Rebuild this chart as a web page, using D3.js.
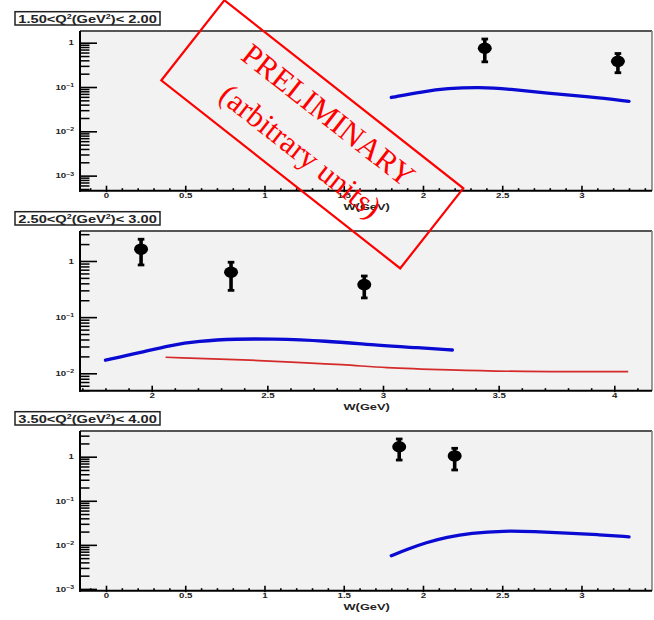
<!DOCTYPE html>
<html><head><meta charset="utf-8">
<script src="https://cdn.jsdelivr.net/npm/d3@7"></script>
<style>body{margin:0;background:#fff} svg{display:block}</style>
</head><body>
<svg id="c" width="654" height="620"></svg>
<script>
// Q² bins shown in the three pads: [low edge, high edge]
const binLow = ["1.50", "2.50", "3.50"];
const binHigh = ["2.00", "3.00", "4.00"];

// measured points: W, value, upper and lower error-bar ends
const bin1W = [2.39, 3.23];
const bin1Val = [0.75, 0.38];
const bin1Hi = [1.21, 0.57];
const bin1Lo = [0.37, 0.21];

const bin2W = [1.954, 2.343, 2.919];
const bin2Val = [1.62, 0.63, 0.38];
const bin2Hi = [2.44, 0.95, 0.54];
const bin2Lo = [0.85, 0.30, 0.22];

const bin3W = [1.85, 2.20];
const bin3Val = [1.68, 1.04];
const bin3Hi = [2.52, 1.55];
const bin3Lo = [0.84, 0.50];

// model curves (blue: thick, red: thin)
const bin1BlueW = [1.80, 2.00, 2.15, 2.36, 2.55, 2.78, 3.05, 3.30];
const bin1BlueY = [0.058, 0.0785, 0.093, 0.100, 0.090, 0.072, 0.0605, 0.0476];

const bin2BlueW = [1.80, 1.95, 2.08, 2.20, 2.37, 2.51, 2.75, 2.99, 3.15, 3.30];
const bin2BlueY = [0.0171, 0.0233, 0.0316, 0.0376, 0.041, 0.041, 0.038, 0.031, 0.0286, 0.026];
const bin2RedW = [2.06, 2.50, 2.86, 2.99, 3.29, 3.58, 4.06];
const bin2RedY = [0.0193, 0.0168, 0.0141, 0.0126, 0.01145, 0.01067, 0.01067];

const bin3BlueW = [1.80, 1.90, 2.02, 2.15, 2.30, 2.51, 2.70, 2.91, 3.10, 3.30];
const bin3BlueY = [0.00566, 0.0079, 0.0113, 0.0149, 0.0185, 0.0209, 0.0200, 0.0185, 0.0171, 0.0152];

// axis ranges and ticks
const wRangeLow = [-0.164, 3.445];
const wRangeHigh = [1.690, 4.163];
const wTicksLow = [0, 0.5, 1, 1.5, 2, 2.5, 3];
const wTicksLowLabels = ["0", "0.5", "1", "1.5", "2", "2.5", "3"];
const wTicksHigh = [2, 2.5, 3, 3.5, 4];
const wTicksHighLabels = ["2", "2.5", "3", "3.5", "4"];
const yRanges = [[Math.pow(10, -3.34), Math.pow(10, 0.264)],
                 [Math.pow(10, -2.31), Math.pow(10, 0.534)],
                 [Math.pow(10, -3.04), Math.pow(10, 0.583)]];
const yTicks = [[1, 0.1, 0.01, 0.001], [1, 0.1, 0.01], [1, 0.1, 0.01, 0.001]];
const yTickExp = { 1: "", 0.1: "\u22121", 0.01: "\u22122", 0.001: "\u22123" };
const xTitle = "W(GeV)";

const pads = [
  { lo: binLow[0], hi: binHigh[0], wr: wRangeLow, wt: wTicksLow, wl: wTicksLowLabels, yr: yRanges[0], yt: yTicks[0],
    pts: [bin1W, bin1Val, bin1Hi, bin1Lo], blue: [bin1BlueW, bin1BlueY], red: null },
  { lo: binLow[1], hi: binHigh[1], wr: wRangeHigh, wt: wTicksHigh, wl: wTicksHighLabels, yr: yRanges[1], yt: yTicks[1],
    pts: [bin2W, bin2Val, bin2Hi, bin2Lo], blue: [bin2BlueW, bin2BlueY], red: [bin2RedW, bin2RedY] },
  { lo: binLow[2], hi: binHigh[2], wr: wRangeLow, wt: wTicksLow, wl: wTicksLowLabels, yr: yRanges[2], yt: yTicks[2],
    pts: [bin3W, bin3Val, bin3Hi, bin3Lo], blue: [bin3BlueW, bin3BlueY], red: null }
];

const svg = d3.select("#c");
const frameX0 = 80, frameX1 = 652, padH = 159.7;
const padTops = [31, 231, 431];
const SANS = "'Liberation Sans', Arial, Helvetica, sans-serif";

pads.forEach((p, i) => {
  const top = padTops[i], bot = top + padH;
  const g = svg.append("g");
  const x = d3.scaleLinear().domain(p.wr).range([frameX0, frameX1]);
  const y = d3.scaleLog().domain(p.yr).range([bot, top]);

  // pad background and frame
  g.append("rect").attr("x", frameX0).attr("y", top).attr("width", frameX1 - frameX0).attr("height", padH)
    .attr("fill", "#f2f2f2");
  g.append("line").attr("x1", frameX0).attr("x2", frameX1).attr("y1", top).attr("y2", top)
    .attr("stroke", "#555").attr("stroke-width", 2);
  g.append("line").attr("x1", frameX1).attr("x2", frameX1).attr("y1", top).attr("y2", bot)
    .attr("stroke", "#7a7a7a").attr("stroke-width", 1.5);

  // model curves
  const line = d3.line().x(d => x(d[0])).y(d => y(d[1])).curve(d3.curveBasis);
  if (p.red) {
    g.append("path").attr("d", line(d3.zip(p.red[0], p.red[1])))
      .attr("fill", "none").attr("stroke", "#d42a2a").attr("stroke-width", 1.7);
  }
  g.append("path").attr("d", line(d3.zip(p.blue[0], p.blue[1])))
    .attr("fill", "none").attr("stroke", "#0a0ad2").attr("stroke-width", 3.3).attr("stroke-linecap", "round");

  // data points with error bars
  const [pw, pv, ph, pl] = p.pts;
  pw.forEach((w, k) => {
    const cx = x(w);
    g.append("line").attr("x1", cx).attr("x2", cx).attr("y1", y(ph[k])).attr("y2", y(pl[k]))
      .attr("stroke", "#000").attr("stroke-width", 3.6);
    [ph[k], pl[k]].forEach(e => {
      g.append("line").attr("x1", cx - 3.3).attr("x2", cx + 3.3).attr("y1", y(e)).attr("y2", y(e))
        .attr("stroke", "#000").attr("stroke-width", 2.8);
    });
    g.append("ellipse").attr("cx", cx).attr("cy", y(pv[k])).attr("rx", 7).attr("ry", 5.8).attr("fill", "#000");
  });

  // x axis: majors with labels, minors every 0.1
  const minorX = d3.range(Math.ceil(p.wr[0] * 10), Math.floor(p.wr[1] * 10) + 1)
    .map(v => v / 10).filter(v => !p.wt.some(t => Math.abs(t - v) < 1e-6));
  g.append("g").attr("transform", `translate(0,${bot})`)
    .call(d3.axisBottom(x).tickValues(minorX).tickSize(-2.5).tickFormat(""))
    .call(a => a.select(".domain").remove())
    .selectAll("line").attr("stroke", "#000").attr("stroke-width", 1.6);
  const xa = g.append("g").attr("transform", `translate(0,${bot})`)
    .call(d3.axisBottom(x).tickValues(p.wt).tickSize(-5).tickPadding(2.3)
      .tickFormat((d, k) => p.wl[k]))
    .call(a => a.select(".domain").remove());
  xa.selectAll("line").attr("stroke", "#000").attr("stroke-width", 1.6).attr("y1", 1.5);
  xa.selectAll("text").attr("font-family", SANS).attr("font-weight", "bold").attr("font-size", 7)
    .attr("fill", "#222").classed("stretch", true);

  // y axis: log decades and minor ticks
  const minorY = y.ticks().filter(v => !p.yt.some(t => Math.abs(Math.log10(t) - Math.log10(v)) < 1e-6));
  g.append("g").attr("transform", `translate(${frameX0},0)`)
    .call(d3.axisLeft(y).tickValues(minorY).tickSize(-9.5).tickFormat(""))
    .call(a => a.select(".domain").remove())
    .selectAll("line").attr("stroke", "#000").attr("stroke-width", 1.5);
  const ya = g.append("g").attr("transform", `translate(${frameX0},0)`)
    .call(d3.axisLeft(y).tickValues(p.yt).tickSize(-17).tickPadding(6).tickFormat(d => d === 1 ? "1" : "10"))
    .call(a => a.select(".domain").remove());
  ya.selectAll("line").attr("stroke", "#000").attr("stroke-width", 1.6);
  ya.selectAll("text").attr("font-family", SANS).attr("font-weight", "bold").attr("font-size", 7)
    .attr("fill", "#222").classed("stretch", true)
    .each(function (d) {
      if (d !== 1) {
        d3.select(this).append("tspan").attr("dy", "-0.55em").attr("font-size", 5).text(yTickExp[d]);
      }
    });

  // axis lines
  g.append("line").attr("x1", frameX0).attr("x2", frameX0).attr("y1", top).attr("y2", bot + 1)
    .attr("stroke", "#000").attr("stroke-width", 2);
  g.append("line").attr("x1", frameX0 - 1).attr("x2", frameX1).attr("y1", bot).attr("y2", bot)
    .attr("stroke", "#000").attr("stroke-width", 2);

  // x-axis title
  g.append("text").attr("x", 366.7).attr("y", bot + 19.3).attr("text-anchor", "middle")
    .attr("font-family", SANS).attr("font-weight", "bold").attr("font-size", 9.3).attr("fill", "#222")
    .classed("stretch", true).text(xTitle);

  // pad title box: "lo<Q^2(GeV^2)< hi" with raised exponents
  g.append("rect").attr("x", 15).attr("y", top - 19.3).attr("width", 145).attr("height", 13.3)
    .attr("fill", "#fff").attr("stroke", "#222").attr("stroke-width", 1.5);
  const t = g.append("text").attr("x", 18.3).attr("y", top - 8.4)
    .attr("font-family", SANS).attr("font-weight", "bold").attr("font-size", 10.7).attr("fill", "#222")
    .attr("textLength", 138.5).attr("lengthAdjust", "spacingAndGlyphs");
  t.append("tspan").text(p.lo + "<Q");
  t.append("tspan").attr("font-size", 6.5).attr("dy", -4).text("2");
  t.append("tspan").attr("dy", 4).text("(GeV");
  t.append("tspan").attr("font-size", 6.5).attr("dy", -4).text("2");
  t.append("tspan").attr("dy", 4).text(")< " + p.hi);
});

// widen axis text the same way as the pad titles
svg.selectAll("text.stretch").each(function () {
  const L = this.getComputedTextLength();
  d3.select(this).attr("textLength", L * 1.38).attr("lengthAdjust", "spacingAndGlyphs");
});

// "PRELIMINARY" stamp
const stamp = svg.append("g").attr("transform", "translate(312.3,134.3) rotate(38.2)");
stamp.append("rect").attr("x", -152).attr("y", -51).attr("width", 304).attr("height", 102)
  .attr("fill", "none").attr("stroke", "#ff0000").attr("stroke-width", 2.2);
stamp.append("text").attr("x", 1).attr("y", -14.6).attr("text-anchor", "middle")
  .attr("font-family", "'Liberation Serif', 'Times New Roman', serif").attr("font-size", 31)
  .attr("fill", "#ff0000").text("PRELIMINARY");
stamp.append("text").attr("x", 1).attr("y", 30.9).attr("text-anchor", "middle")
  .attr("font-family", "'Liberation Serif', 'Times New Roman', serif").attr("font-size", 31)
  .attr("fill", "#ff0000").text("(arbitrary units)");
</script>
</body></html>
